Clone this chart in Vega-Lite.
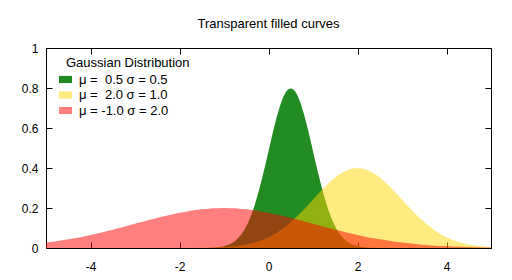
{
  "$schema": "https://vega.github.io/schema/vega-lite/v6.json",
  "width": 445,
  "height": 200,
  "autosize": "none",
  "padding": {"left": 46, "top": 48, "right": 21, "bottom": 32},
  "title": {"text": "Transparent filled curves", "fontSize": 13, "fontWeight": "normal", "font": "Liberation Sans", "color": "#000", "anchor": "middle", "baseline": "alphabetic", "offset": 1},
  "config": {
    "view": {"stroke": "#000", "strokeWidth": 1},
    "axis": {"labelFont": "Liberation Sans", "labelFontSize": 12, "labelColor": "#000", "domainColor": "#000", "tickColor": "#000", "grid": false, "title": null, "tickSize": -6}
  },
  "data": {"values": [
    {"x": -1.5, "s": "a", "y": 0.00027}, {"x": -1.4, "s": "a", "y": 0.00058}, {"x": -1.3, "s": "a", "y": 0.00122}, {"x": -1.2, "s": "a", "y": 0.00246}, {"x": -1.1, "s": "a", "y": 0.00477},
    {"x": -1.0, "s": "a", "y": 0.00886}, {"x": -0.9, "s": "a", "y": 0.01583}, {"x": -0.8, "s": "a", "y": 0.02717}, {"x": -0.7, "s": "a", "y": 0.04479}, {"x": -0.6, "s": "a", "y": 0.07095},
    {"x": -0.5, "s": "a", "y": 0.10798}, {"x": -0.4, "s": "a", "y": 0.1579}, {"x": -0.3, "s": "a", "y": 0.22184}, {"x": -0.2, "s": "a", "y": 0.29945}, {"x": -0.1, "s": "a", "y": 0.38837},
    {"x": 0.0, "s": "a", "y": 0.48394}, {"x": 0.1, "s": "a", "y": 0.57939}, {"x": 0.2, "s": "a", "y": 0.66645}, {"x": 0.3, "s": "a", "y": 0.73654}, {"x": 0.4, "s": "a", "y": 0.78209},
    {"x": 0.5, "s": "a", "y": 0.79788}, {"x": 0.6, "s": "a", "y": 0.78209}, {"x": 0.7, "s": "a", "y": 0.73654}, {"x": 0.8, "s": "a", "y": 0.66645}, {"x": 0.9, "s": "a", "y": 0.57939},
    {"x": 1.0, "s": "a", "y": 0.48394}, {"x": 1.1, "s": "a", "y": 0.38837}, {"x": 1.2, "s": "a", "y": 0.29945}, {"x": 1.3, "s": "a", "y": 0.22184}, {"x": 1.4, "s": "a", "y": 0.1579},
    {"x": 1.5, "s": "a", "y": 0.10798}, {"x": 1.6, "s": "a", "y": 0.07095}, {"x": 1.7, "s": "a", "y": 0.04479}, {"x": 1.8, "s": "a", "y": 0.02717}, {"x": 1.9, "s": "a", "y": 0.01583},
    {"x": 2.0, "s": "a", "y": 0.00886}, {"x": 2.1, "s": "a", "y": 0.00477}, {"x": 2.2, "s": "a", "y": 0.00246}, {"x": 2.3, "s": "a", "y": 0.00122}, {"x": 2.4, "s": "a", "y": 0.00058},
    {"x": 2.5, "s": "a", "y": 0.00027},

    {"x": -2.0, "s": "b", "y": 0.00013}, {"x": -1.9, "s": "b", "y": 0.0002}, {"x": -1.8, "s": "b", "y": 0.00029}, {"x": -1.7, "s": "b", "y": 0.00042}, {"x": -1.6, "s": "b", "y": 0.00061},
    {"x": -1.5, "s": "b", "y": 0.00087}, {"x": -1.4, "s": "b", "y": 0.00123}, {"x": -1.3, "s": "b", "y": 0.00172}, {"x": -1.2, "s": "b", "y": 0.00238}, {"x": -1.1, "s": "b", "y": 0.00327},
    {"x": -1.0, "s": "b", "y": 0.00443}, {"x": -0.9, "s": "b", "y": 0.00595}, {"x": -0.8, "s": "b", "y": 0.00792}, {"x": -0.7, "s": "b", "y": 0.01042}, {"x": -0.6, "s": "b", "y": 0.01358},
    {"x": -0.5, "s": "b", "y": 0.01753}, {"x": -0.4, "s": "b", "y": 0.02239}, {"x": -0.3, "s": "b", "y": 0.02833}, {"x": -0.2, "s": "b", "y": 0.03547}, {"x": -0.1, "s": "b", "y": 0.04398},
    {"x": 0.0, "s": "b", "y": 0.05399}, {"x": 0.1, "s": "b", "y": 0.06562}, {"x": 0.2, "s": "b", "y": 0.07895}, {"x": 0.3, "s": "b", "y": 0.09405}, {"x": 0.4, "s": "b", "y": 0.11092},
    {"x": 0.5, "s": "b", "y": 0.12952}, {"x": 0.6, "s": "b", "y": 0.14973}, {"x": 0.7, "s": "b", "y": 0.17137}, {"x": 0.8, "s": "b", "y": 0.19419}, {"x": 0.9, "s": "b", "y": 0.21785},
    {"x": 1.0, "s": "b", "y": 0.24197}, {"x": 1.1, "s": "b", "y": 0.26609}, {"x": 1.2, "s": "b", "y": 0.28969}, {"x": 1.3, "s": "b", "y": 0.31225}, {"x": 1.4, "s": "b", "y": 0.33322},
    {"x": 1.5, "s": "b", "y": 0.35207}, {"x": 1.6, "s": "b", "y": 0.36827}, {"x": 1.7, "s": "b", "y": 0.38139}, {"x": 1.8, "s": "b", "y": 0.39104}, {"x": 1.9, "s": "b", "y": 0.39695},
    {"x": 2.0, "s": "b", "y": 0.39894}, {"x": 2.1, "s": "b", "y": 0.39695}, {"x": 2.2, "s": "b", "y": 0.39104}, {"x": 2.3, "s": "b", "y": 0.38139}, {"x": 2.4, "s": "b", "y": 0.36827},
    {"x": 2.5, "s": "b", "y": 0.35207}, {"x": 2.6, "s": "b", "y": 0.33322}, {"x": 2.7, "s": "b", "y": 0.31225}, {"x": 2.8, "s": "b", "y": 0.28969}, {"x": 2.9, "s": "b", "y": 0.26609},
    {"x": 3.0, "s": "b", "y": 0.24197}, {"x": 3.1, "s": "b", "y": 0.21785}, {"x": 3.2, "s": "b", "y": 0.19419}, {"x": 3.3, "s": "b", "y": 0.17137}, {"x": 3.4, "s": "b", "y": 0.14973},
    {"x": 3.5, "s": "b", "y": 0.12952}, {"x": 3.6, "s": "b", "y": 0.11092}, {"x": 3.7, "s": "b", "y": 0.09405}, {"x": 3.8, "s": "b", "y": 0.07895}, {"x": 3.9, "s": "b", "y": 0.06562},
    {"x": 4.0, "s": "b", "y": 0.05399}, {"x": 4.1, "s": "b", "y": 0.04398}, {"x": 4.2, "s": "b", "y": 0.03547}, {"x": 4.3, "s": "b", "y": 0.02833}, {"x": 4.4, "s": "b", "y": 0.02239},
    {"x": 4.5, "s": "b", "y": 0.01753}, {"x": 4.6, "s": "b", "y": 0.01358}, {"x": 4.7, "s": "b", "y": 0.01042}, {"x": 4.8, "s": "b", "y": 0.00792}, {"x": 4.9, "s": "b", "y": 0.00595},
    {"x": 5.0, "s": "b", "y": 0.00443},

    {"x": -5.0, "s": "c", "y": 0.027}, {"x": -4.9, "s": "c", "y": 0.0298}, {"x": -4.8, "s": "c", "y": 0.03281}, {"x": -4.7, "s": "c", "y": 0.03603}, {"x": -4.6, "s": "c", "y": 0.03948},
    {"x": -4.5, "s": "c", "y": 0.04314}, {"x": -4.4, "s": "c", "y": 0.04703}, {"x": -4.3, "s": "c", "y": 0.05113}, {"x": -4.2, "s": "c", "y": 0.05546}, {"x": -4.1, "s": "c", "y": 0.06001},
    {"x": -4.0, "s": "c", "y": 0.06476}, {"x": -3.9, "s": "c", "y": 0.06972}, {"x": -3.8, "s": "c", "y": 0.07486}, {"x": -3.7, "s": "c", "y": 0.08019}, {"x": -3.6, "s": "c", "y": 0.08569},
    {"x": -3.5, "s": "c", "y": 0.09132}, {"x": -3.4, "s": "c", "y": 0.09709}, {"x": -3.3, "s": "c", "y": 0.10297}, {"x": -3.2, "s": "c", "y": 0.10893}, {"x": -3.1, "s": "c", "y": 0.11494},
    {"x": -3.0, "s": "c", "y": 0.12099}, {"x": -2.9, "s": "c", "y": 0.12703}, {"x": -2.8, "s": "c", "y": 0.13304}, {"x": -2.7, "s": "c", "y": 0.13899}, {"x": -2.6, "s": "c", "y": 0.14485},
    {"x": -2.5, "s": "c", "y": 0.15057}, {"x": -2.4, "s": "c", "y": 0.15613}, {"x": -2.3, "s": "c", "y": 0.16149}, {"x": -2.2, "s": "c", "y": 0.16661}, {"x": -2.1, "s": "c", "y": 0.17147},
    {"x": -2.0, "s": "c", "y": 0.17603}, {"x": -1.9, "s": "c", "y": 0.18026}, {"x": -1.8, "s": "c", "y": 0.18414}, {"x": -1.7, "s": "c", "y": 0.18762}, {"x": -1.6, "s": "c", "y": 0.1907},
    {"x": -1.5, "s": "c", "y": 0.19333}, {"x": -1.4, "s": "c", "y": 0.19552}, {"x": -1.3, "s": "c", "y": 0.19724}, {"x": -1.2, "s": "c", "y": 0.19848}, {"x": -1.1, "s": "c", "y": 0.19922},
    {"x": -1.0, "s": "c", "y": 0.19947}, {"x": -0.9, "s": "c", "y": 0.19922}, {"x": -0.8, "s": "c", "y": 0.19848}, {"x": -0.7, "s": "c", "y": 0.19724}, {"x": -0.6, "s": "c", "y": 0.19552},
    {"x": -0.5, "s": "c", "y": 0.19333}, {"x": -0.4, "s": "c", "y": 0.1907}, {"x": -0.3, "s": "c", "y": 0.18762}, {"x": -0.2, "s": "c", "y": 0.18414}, {"x": -0.1, "s": "c", "y": 0.18026},
    {"x": 0.0, "s": "c", "y": 0.17603}, {"x": 0.1, "s": "c", "y": 0.17147}, {"x": 0.2, "s": "c", "y": 0.16661}, {"x": 0.3, "s": "c", "y": 0.16149}, {"x": 0.4, "s": "c", "y": 0.15613},
    {"x": 0.5, "s": "c", "y": 0.15057}, {"x": 0.6, "s": "c", "y": 0.14485}, {"x": 0.7, "s": "c", "y": 0.13899}, {"x": 0.8, "s": "c", "y": 0.13304}, {"x": 0.9, "s": "c", "y": 0.12703},
    {"x": 1.0, "s": "c", "y": 0.12099}, {"x": 1.1, "s": "c", "y": 0.11494}, {"x": 1.2, "s": "c", "y": 0.10893}, {"x": 1.3, "s": "c", "y": 0.10297}, {"x": 1.4, "s": "c", "y": 0.09709},
    {"x": 1.5, "s": "c", "y": 0.09132}, {"x": 1.6, "s": "c", "y": 0.08569}, {"x": 1.7, "s": "c", "y": 0.08019}, {"x": 1.8, "s": "c", "y": 0.07486}, {"x": 1.9, "s": "c", "y": 0.06972},
    {"x": 2.0, "s": "c", "y": 0.06476}, {"x": 2.1, "s": "c", "y": 0.06001}, {"x": 2.2, "s": "c", "y": 0.05546}, {"x": 2.3, "s": "c", "y": 0.05113}, {"x": 2.4, "s": "c", "y": 0.04703},
    {"x": 2.5, "s": "c", "y": 0.04314}, {"x": 2.6, "s": "c", "y": 0.03948}, {"x": 2.7, "s": "c", "y": 0.03603}, {"x": 2.8, "s": "c", "y": 0.03281}, {"x": 2.9, "s": "c", "y": 0.0298},
    {"x": 3.0, "s": "c", "y": 0.027}, {"x": 3.1, "s": "c", "y": 0.0244}, {"x": 3.2, "s": "c", "y": 0.02199}, {"x": 3.3, "s": "c", "y": 0.01978}, {"x": 3.4, "s": "c", "y": 0.01774},
    {"x": 3.5, "s": "c", "y": 0.01587}, {"x": 3.6, "s": "c", "y": 0.01416}, {"x": 3.7, "s": "c", "y": 0.01261}, {"x": 3.8, "s": "c", "y": 0.0112}, {"x": 3.9, "s": "c", "y": 0.00992},
    {"x": 4.0, "s": "c", "y": 0.00876}, {"x": 4.1, "s": "c", "y": 0.00773}, {"x": 4.2, "s": "c", "y": 0.00679}, {"x": 4.3, "s": "c", "y": 0.00596}, {"x": 4.4, "s": "c", "y": 0.00521},
    {"x": 4.5, "s": "c", "y": 0.00455}, {"x": 4.6, "s": "c", "y": 0.00396}, {"x": 4.7, "s": "c", "y": 0.00344}, {"x": 4.8, "s": "c", "y": 0.00298}, {"x": 4.9, "s": "c", "y": 0.00257},
    {"x": 5.0, "s": "c", "y": 0.00222}
  ]},
  "resolve": {"axis": {"x": "independent", "y": "independent"}},
  "layer": [
    {
      "mark": {"type": "area", "interpolate": "monotone", "clip": true},
      "encoding": {
        "x": {"field": "x", "type": "quantitative", "scale": {"domain": [-5, 5], "nice": false, "zero": false},
              "axis": {"orient": "bottom", "values": [-4, -2, 0, 2, 4], "labelExpr": "datum.value + ''", "labelPadding": 19, "domain": true}},
        "y": {"field": "y", "type": "quantitative", "stack": null, "scale": {"domain": [0, 1], "nice": false},
              "axis": {"orient": "left", "values": [0, 0.2, 0.4, 0.6, 0.8, 1], "format": "~g", "labelPadding": 14}},
        "color": {"field": "s", "type": "nominal",
                  "scale": {"domain": ["a", "b", "c"], "range": ["#228B22", "#FFD700", "#FF0000"]},
                  "legend": {"orient": "none", "legendX": 20, "legendY": 9, "title": "Gaussian Distribution",
                             "titleFont": "Liberation Sans", "titleFontSize": 13, "titleFontWeight": "normal", "titleColor": "#000", "titlePadding": 3,
                             "labelFont": "Liberation Sans", "labelFontSize": 13, "labelColor": "#000", "labelOffset": 7, "symbolOffset": -7,
                             "symbolType": "M-1,-0.55H1V0.55H-1Z", "symbolSize": 169, "symbolStrokeWidth": 0, "rowPadding": 1.5, "padding": 0,
                             "labelExpr": "datum.label == 'a' ? 'μ = \u00a00.5 σ = 0.5' : datum.label == 'b' ? 'μ = \u00a02.0 σ = 1.0' : 'μ = -1.0 σ = 2.0'"}},
        "opacity": {"field": "s", "type": "nominal", "scale": {"type": "ordinal", "domain": ["a", "b", "c"], "range": [1, 0.5, 0.5]}}
      }
    },
    {
      "mark": {"type": "point", "opacity": 0},
      "encoding": {
        "x": {"field": "x", "type": "quantitative", "scale": {"domain": [-5, 5], "nice": false, "zero": false},
              "axis": {"orient": "top", "values": [-4, -2, 0, 2, 4], "labels": false, "domain": false}},
        "y": {"field": "y", "type": "quantitative", "scale": {"domain": [0, 1], "nice": false},
              "axis": {"orient": "right", "values": [0, 0.2, 0.4, 0.6, 0.8, 1], "labels": false, "domain": false}}
      }
    }
  ]
}
